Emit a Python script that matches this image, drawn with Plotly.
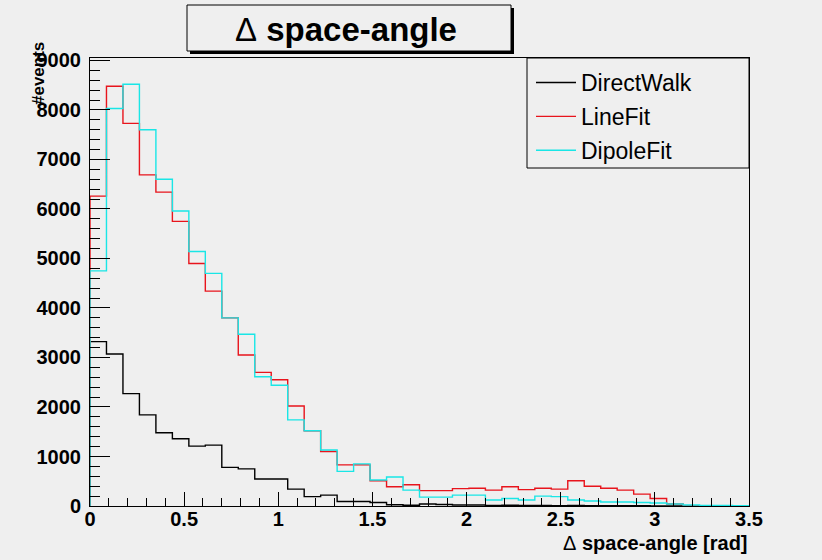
import numpy as np
import plotly.graph_objects as go

# Histogram binning: 40 bins over 0..3.5 rad
x_min, x_max, n_bins = 0.0, 3.5, 40

# Bin contents (#events per bin)
direct_walk = [3320, 3070, 2270, 1840, 1480, 1360, 1210, 1230, 780, 750,
               545, 545, 340, 190, 220, 90, 90, 70, 25, 15,
               40, 30, 20, 20, 10, 15, 10, 10, 5, 10,
               5, 5, 5, 5, 3, 2, 0, 0, 0, 0]
line_fit = [6260, 8480, 7730, 6690, 6340, 5750, 4900, 4340, 3800, 3050,
            2700, 2550, 2020, 1520, 1100, 830, 830, 510, 390, 430,
            310, 310, 350, 360, 320, 390, 330, 360, 340, 510,
            400, 360, 320, 240, 150, 40, 0, 0, 0, 0]
dipole_fit = [4750, 8030, 8520, 7600, 6600, 5960, 5140, 4700, 3800, 3470,
              2610, 2440, 1740, 1520, 1130, 700, 850, 525, 585, 320,
              180, 180, 220, 220, 120, 150, 120, 200, 190, 120,
              100, 80, 80, 70, 60, 40, 20, 10, 10, 5]

series_names = ["DirectWalk", "LineFit", "DipoleFit"]
series_values = [direct_walk, line_fit, dipole_fit]
series_colors = ["#000000", "#e8141c", "#19e6e6"]

y_max = 9050

edges = np.linspace(x_min, x_max, n_bins + 1)

W, H = 822, 560
L, R, T, B = 90, 73, 58, 54
pw, ph = W - L - R, H - T - B


def px(xpix):
    return (xpix - L) / pw


def py(ypix):
    return (H - B - ypix) / ph


fig = go.Figure()
for name, vals, col in zip(series_names, series_values, series_colors):
    # step outline: rise at the left edge, fall back to zero at the right edge
    xs = np.concatenate([[edges[0]], edges[:-1], [edges[-1]]])
    ys = np.concatenate([[0], vals, [0]])
    fig.add_trace(go.Scatter(
        x=xs, y=ys, mode="lines", name=name, legendgroup=name,
        line=dict(color=col, width=1.4, shape="hv"),
    ))

font_family = "Liberation Sans, Arial, sans-serif"

fig.update_xaxes(
    range=[x_min, x_max], dtick=0.5, tick0=0,
    ticks="inside", ticklen=14, tickcolor="black", tickwidth=1,
    minor=dict(dtick=0.1, ticks="inside", ticklen=8, tickcolor="black"),
    showline=True, linecolor="black", linewidth=1, mirror=True,
    showgrid=False, zeroline=False, ticklabelstandoff=-5,
    tickfont=dict(family=font_family, size=20, color="black", weight="bold"),
)
fig.update_yaxes(
    range=[0, y_max], dtick=1000, tick0=0,
    ticks="inside", ticklen=20, tickcolor="black", tickwidth=1,
    minor=dict(dtick=200, ticks="inside", ticklen=10, tickcolor="black"),
    showline=True, linecolor="black", linewidth=1, mirror=True,
    showgrid=False, zeroline=False, ticklabelstandoff=4,
    tickfont=dict(family=font_family, size=20, color="black", weight="bold"),
)

shapes = [
    # title box shadow + box
    dict(type="rect", xref="paper", yref="paper",
         x0=px(190), x1=px(514), y0=py(54), y1=py(8),
         fillcolor="black", line=dict(width=0), layer="above"),
    dict(type="rect", xref="paper", yref="paper",
         x0=px(187), x1=px(511), y0=py(51), y1=py(5),
         fillcolor="#efefef", line=dict(color="black", width=1), layer="above"),
    # legend frame
    dict(type="rect", xref="paper", yref="paper",
         x0=px(527), x1=px(749), y0=py(168), y1=py(58),
         line=dict(color="black", width=1), layer="above"),
]

annotations = [
    dict(text="<span style='font-weight:normal'>Δ</span> space-angle",
         xref="paper", yref="paper", x=px(346), y=py(29),
         xanchor="center", yanchor="middle", showarrow=False,
         font=dict(family=font_family, size=33, color="black", weight="bold")),
    dict(text="<span style='font-weight:normal'>Δ</span> space-angle [rad]",
         xref="paper", yref="paper", x=px(750), y=py(543),
         xanchor="right", yanchor="middle", showarrow=False,
         font=dict(family=font_family, size=20, color="black", weight="bold")),
    dict(text="#events", textangle=-90,
         xref="paper", yref="paper", x=px(38), y=py(74),
         xanchor="center", yanchor="middle", showarrow=False,
         font=dict(family=font_family, size=17, color="black", weight="bold")),
]

fig.update_layout(
    width=W, height=H,
    margin=dict(l=L, r=R, t=T, b=B, pad=0),
    paper_bgcolor="#efefef", plot_bgcolor="#efefef",
    shapes=shapes, annotations=annotations,
    showlegend=True,
    legend=dict(x=px(531), y=py(61), xanchor="left", yanchor="top",
                bgcolor="rgba(0,0,0,0)", borderwidth=0,
                traceorder="grouped", tracegroupgap=1, itemwidth=40,
                font=dict(family=font_family, size=23, color="black")),
)

fig.write_html("out.html")
